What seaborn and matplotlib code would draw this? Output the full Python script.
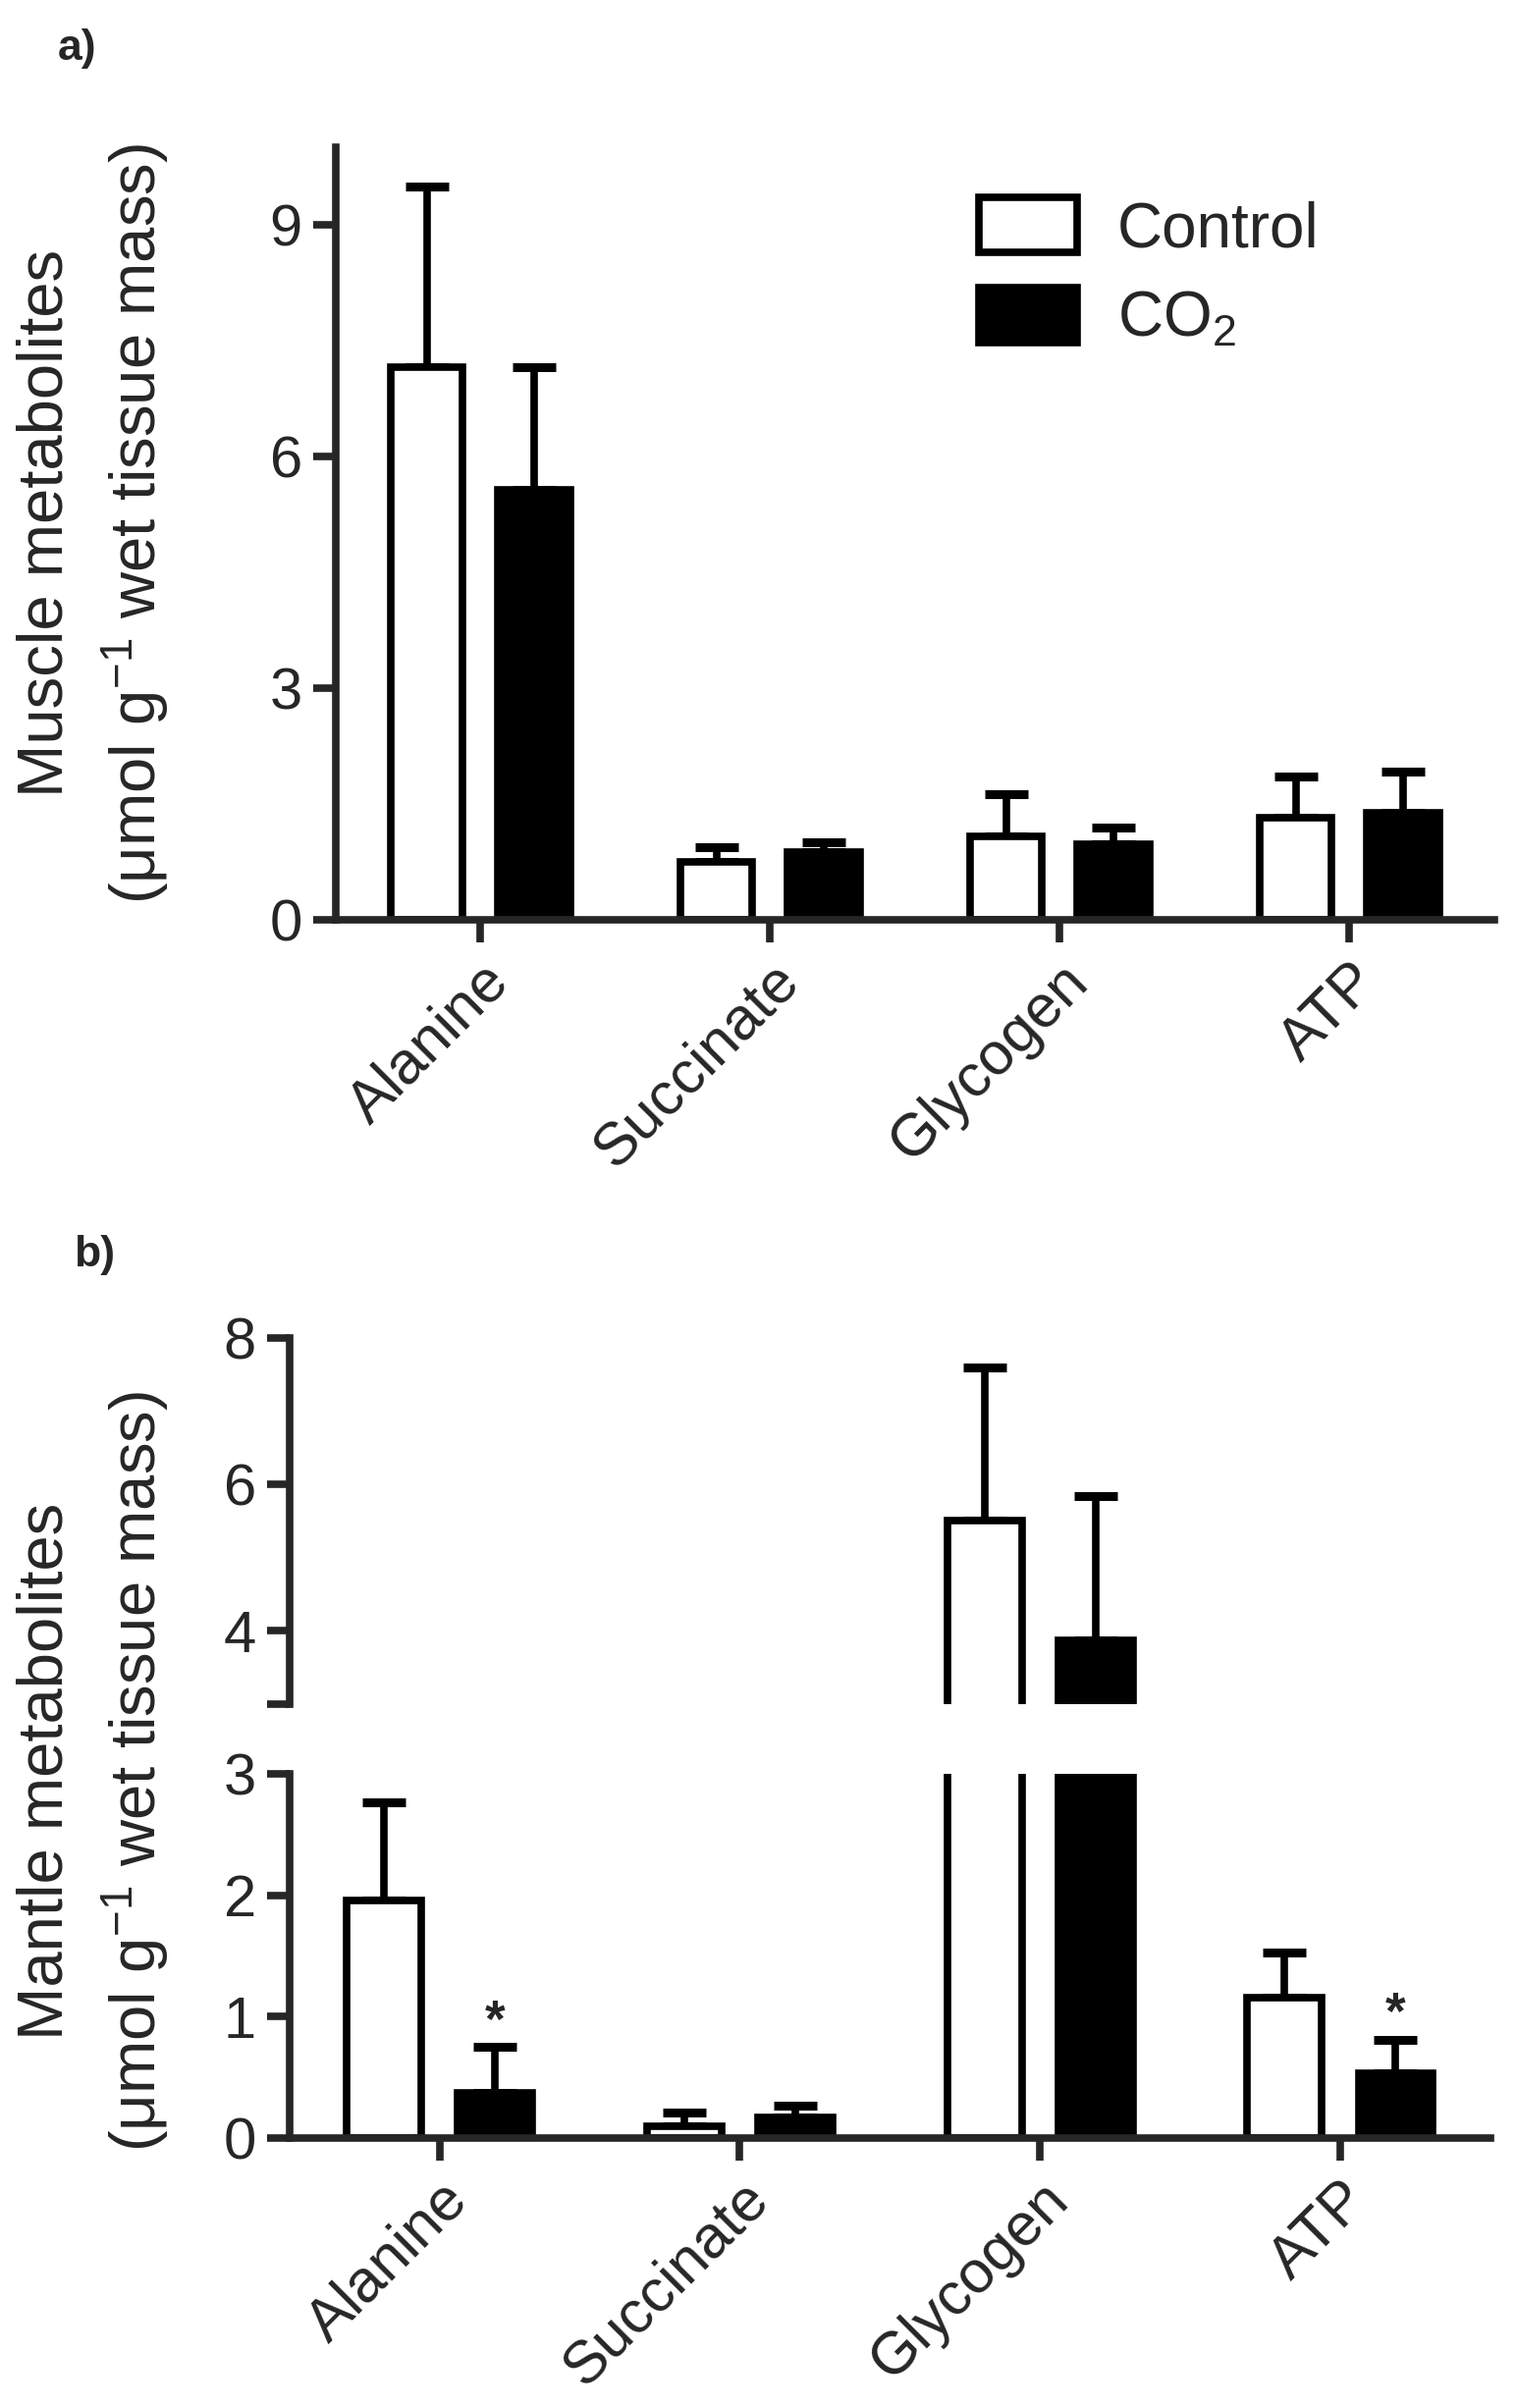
import numpy as np
import pandas as pd
import matplotlib
matplotlib.use("Agg")
import matplotlib.pyplot as plt
import seaborn as sns

# Werte
metabolites = ['Alanine', 'Succinate', 'Glycogen', 'ATP']
groups = ['Control', 'CO$_2$']

# a) Muskel
muscle_control = [7.16, 0.75, 1.08, 1.32]
muscle_control_err = [2.33, 0.19, 0.55, 0.53]
muscle_co2 = [5.57, 0.88, 0.98, 1.39]
muscle_co2_err = [1.59, 0.12, 0.22, 0.53]

# b) Mantel
mantle_control = [1.96, 0.10, 5.51, 1.16]
mantle_control_err = [0.81, 0.11, 2.09, 0.37]
mantle_co2 = [0.37, 0.17, 3.87, 0.53]
mantle_co2_err = [0.38, 0.10, 1.97, 0.28]
mantle_signif = ['Alanine', 'ATP']  # Sternchen bei CO2

sns.set_style('ticks')
plt.rcParams['font.family'] = ['Liberation Sans', 'DejaVu Sans']
plt.rcParams['mathtext.fontset'] = 'custom'
plt.rcParams['mathtext.rm'] = 'Liberation Sans'
plt.rcParams['mathtext.it'] = 'Liberation Sans:italic'
plt.rcParams['mathtext.default'] = 'regular'

LW = 5.5


def make_df(ctrl, co2):
    return pd.DataFrame({
        'metabolite': metabolites * 2,
        'group': [groups[0]] * 4 + [groups[1]] * 4,
        'value': ctrl + co2,
    })


def draw_bars(ax, df, errs, legend=False):
    sns.barplot(data=df, x='metabolite', y='value', hue='group',
                palette=['white', 'black'], saturation=1, edgecolor='black',
                linewidth=LW, width=0.74, gap=0.33, errorbar=None,
                legend=legend, ax=ax)
    tops = []
    for cont, err in zip(ax.containers, errs):
        xs = [p.get_x() + p.get_width() / 2 for p in cont.patches]
        ys = [p.get_height() for p in cont.patches]
        ax.errorbar(xs, ys, yerr=[np.zeros(len(err)), err], fmt='none',
                    ecolor='black', elinewidth=LW, capsize=16, capthick=6.5,
                    zorder=0)
        tops.append((xs, [y + e for y, e in zip(ys, err)]))
    return tops


def style_axis(ax):
    for s in ['left', 'bottom']:
        ax.spines[s].set_linewidth(LW)
    sns.despine(ax=ax)
    ax.tick_params(axis='both', width=LW, length=16.5, labelsize=43, pad=8)
    ax.set_xlabel('')
    ax.set_ylabel('')
    ax.set_xlim(-0.5, 3.5)


fig = plt.figure(figsize=(15.44, 24.53), dpi=100)

# ---- a) Muskel
ax_a = fig.add_axes([0.2215, 0.618, 0.7642, 0.3208])
draw_bars(ax_a, make_df(muscle_control, muscle_co2),
          [muscle_control_err, muscle_co2_err], legend=True)
style_axis(ax_a)
ax_a.set_ylim(0, 10)
ax_a.set_yticks([0, 3, 6, 9])
ax_a.set_xticks(range(4))
ax_a.set_xticklabels(metabolites, rotation=45, ha='right',
                     rotation_mode='anchor', fontsize=44)
handles, labels = ax_a.get_legend_handles_labels()
ax_a.legend(handles, labels, loc='upper left', bbox_to_anchor=(0.625, 0.931),
            bbox_transform=fig.transFigure, frameon=False, fontsize=46,
            handlelength=1.56, handleheight=0.97, handletextpad=0.65,
            labelspacing=0.45, borderpad=0)

# ---- b) Mantel, unterbrochene y-Achse
ax_bt = fig.add_axes([0.191, 0.2923, 0.792, 0.152])
ax_bb = fig.add_axes([0.191, 0.1121, 0.792, 0.1512])
df_b = make_df(mantle_control, mantle_co2)
errs_b = [mantle_control_err, mantle_co2_err]
draw_bars(ax_bt, df_b, errs_b)
tops_b = draw_bars(ax_bb, df_b, errs_b)

style_axis(ax_bt)
ax_bt.set_ylim(3, 8)
ax_bt.set_yticks([3, 4, 6, 8])
ax_bt.set_yticklabels(['', '4', '6', '8'])
ax_bt.spines['bottom'].set_visible(False)
ax_bt.tick_params(axis='x', bottom=False, labelbottom=False)

style_axis(ax_bb)
ax_bb.set_ylim(0, 3)
ax_bb.set_yticks([0, 1, 2, 3])
ax_bb.set_xticks(range(4))
ax_bb.set_xticklabels(metabolites, rotation=45, ha='right',
                      rotation_mode='anchor', fontsize=44)

xs_co2, top_co2 = tops_b[1]
for m, x, t in zip(metabolites, xs_co2, top_co2):
    if m in mantle_signif:
        ax_bb.text(x, t + 0.2, '*', ha='center', va='center', fontsize=38,
                   fontweight='bold')

# y-Achsenbeschriftungen
fig.text(0.0304, 0.7827, 'Muscle metabolites', rotation=90, ha='center',
         va='center', fontsize=47)
fig.text(0.0894, 0.7827, '(μmol g$^{-1}$ wet tissue mass)', rotation=90,
         ha='center', va='center', fontsize=47)
fig.text(0.0304, 0.2646, 'Mantle metabolites', rotation=90, ha='center',
         va='center', fontsize=47)
fig.text(0.0894, 0.2646, '(μmol g$^{-1}$ wet tissue mass)', rotation=90,
         ha='center', va='center', fontsize=47)

fig.text(0.051, 0.980, 'a)', fontsize=32, fontweight='bold', ha='center',
         va='center')
fig.text(0.062, 0.479, 'b)', fontsize=32, fontweight='bold', ha='center',
         va='center')

fig.savefig('out.png', dpi=100, facecolor='white')
